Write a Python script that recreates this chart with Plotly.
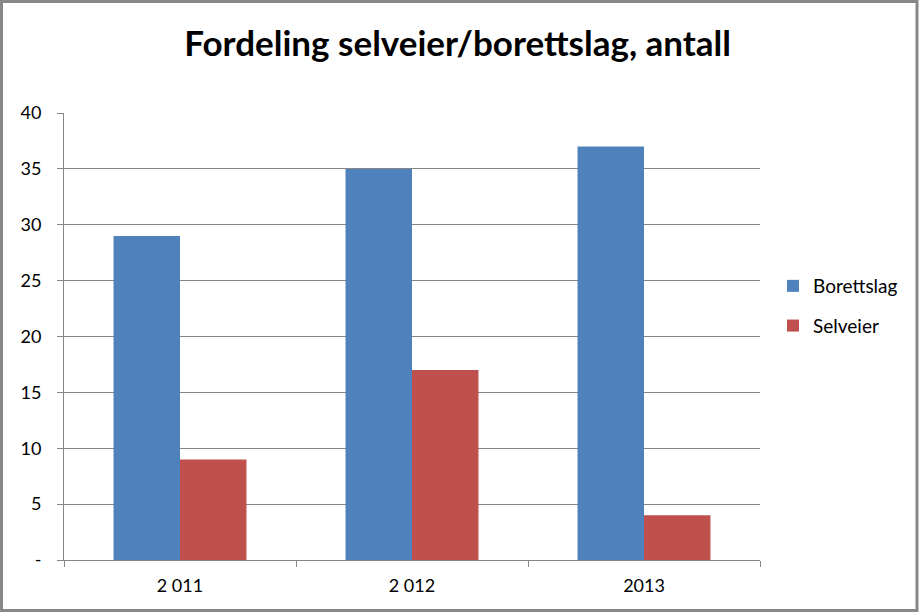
import plotly.graph_objects as go

years = ["2 011", "2 012", "2013"]
borettslag = [29, 35, 37]
selveier = [9, 17, 4]
ytick_vals = [0, 5, 10, 15, 20, 25, 30, 35, 40]
ytick_text = ["-", "5", "10", "15", "20", "25", "30", "35", "40"]

FONT = "Lato"
L, R, T, B = 64, 159, 113, 53
W, H = 919, 613
pw, ph = W - L - R, H - T - B

def px(x):
    return (x - L) / pw

def py(y):
    return (H - B - y) / ph

fig = go.Figure()
fig.add_bar(name="Borettslag", x=years, y=borettslag, marker_color="#4F81BD",
            marker_line_width=0, legendgroup="a")
fig.add_bar(name="Selveier", x=years, y=selveier, marker_color="#C0504D",
            marker_line_width=0, legendgroup="b")

fig.update_layout(
    width=W, height=H,
    margin=dict(l=L, r=R, t=T, b=B, autoexpand=False),
    paper_bgcolor="white", plot_bgcolor="white",
    barmode="group", bargap=0.427, bargroupgap=0,
    font=dict(family=FONT, color="black"),
    title=dict(text="<b>Fordeling selveier/borettslag, antall</b>",
               x=0.498, xanchor="center", y=1 - 44 / H, yanchor="middle",
               font=dict(size=35, family=FONT, color="black")),
    legend=dict(x=px(773), xanchor="left", y=py(306), yanchor="middle",
                font=dict(size=19, family=FONT, color="black"),
                tracegroupgap=12, itemwidth=30, bgcolor="rgba(0,0,0,0)"),
    showlegend=True,
    xaxis=dict(type="category", tickson="boundaries", ticks="outside",
               ticklen=6, tickcolor="#868686", showline=True,
               linecolor="#868686", linewidth=1, showgrid=False,
               tickfont=dict(size=18, family=FONT, color="black"),
               ticklabelstandoff=9),
    yaxis=dict(range=[0, 40], tickvals=ytick_vals, ticktext=ytick_text,
               ticks="outside", ticklen=6, tickcolor="#868686",
               showline=True, linecolor="#868686", linewidth=1,
               showgrid=True, gridcolor="#868686", gridwidth=1,
               zeroline=False,
               tickfont=dict(size=18, family=FONT, color="black"),
               ticklabelstandoff=12),
    shapes=[dict(type="rect", xref="paper", yref="paper",
                 x0=px(1.5), x1=px(917), y0=py(1.5), y1=py(610.5),
                 line=dict(color="#878787", width=3), layer="above")],
)

fig.write_html("out.html")
